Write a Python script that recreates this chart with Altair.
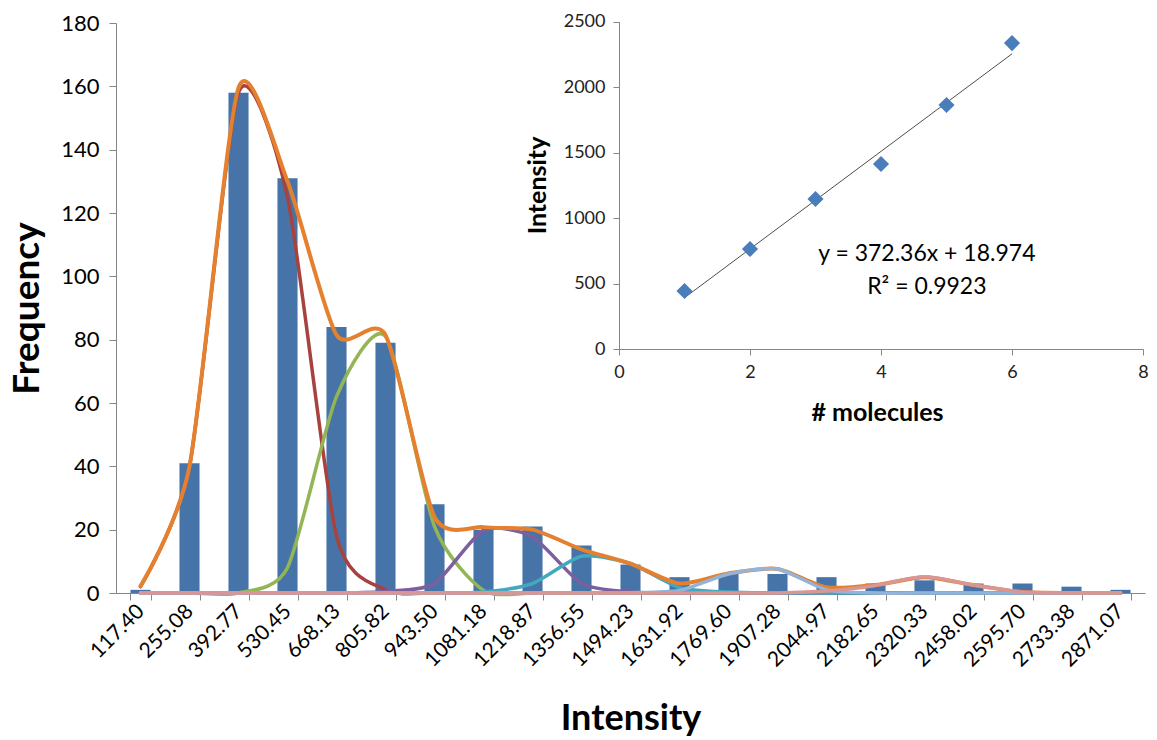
import altair as alt
import pandas as pd

# Histogram of spot intensities
bins = ["117.40", "255.08", "392.77", "530.45", "668.13", "805.82", "943.50",
        "1081.18", "1218.87", "1356.55", "1494.23", "1631.92", "1769.60",
        "1907.28", "2044.97", "2182.65", "2320.33", "2458.02", "2595.70",
        "2733.38", "2871.07"]
frequency = [1, 41, 158, 131, 84, 79, 28, 20, 21, 15, 9, 5, 6, 6, 5, 3, 4, 3, 3, 2, 1]

# Gaussian components evaluated at each bin, plus their sum
peak1 = [2, 40, 158, 125, 18, 1, 0, 0, 0, 0, 0, 0, 0, 0, 0, 0, 0, 0, 0, 0, 0]
peak2 = [0, 0, 0, 8, 62, 81, 21, 0.8, 0, 0, 0, 0, 0, 0, 0, 0, 0, 0, 0, 0, 0]
peak3 = [0, 0, 0, 0, 0, 0.5, 3, 19.8, 17.7, 3, 0.3, 0, 0, 0, 0, 0, 0, 0, 0, 0, 0]
peak4 = [0, 0, 0, 0, 0, 0, 0, 0.3, 3, 11.6, 9.3, 1.7, 0.3, 0, 0, 0, 0, 0, 0, 0, 0]
fit_sum = [2.2, 40, 159.5, 130, 81.5, 81.5, 24, 20.8, 20, 13.8, 9.3, 3, 6.2, 7.6,
           1.8, 2.5, 5, 2.5, 0.3, 0, 0]
peak5 = [0, 0, 0, 0, 0, 0, 0, 0, 0, 0, 0.1, 0.8, 6, 7.6, 1, 0, 0, 0, 0, 0, 0]
peak6 = [0, 0, 0, 0, 0, 0, 0, 0, 0, 0, 0, 0, 0, 0, 0.6, 2.4, 5.1, 2.5, 0.3, 0, 0]

# Calibration: intensity per number of molecules
molecules = [1, 2, 3, 4, 5, 6]
intensity = [443, 763, 1145, 1412, 1863, 2335]
slope = 372.36
intercept = 18.974
r_squared = 0.9923

FONT = "Lato"
AXIS_GREY = "#868686"

# Drawing order of the curves (later ones on top): name, values, colour, width
curves = [
    ("peak1", peak1, "#A8423F", 3.5),
    ("peak2", peak2, "#93B555", 3.5),
    ("peak3", peak3, "#7D5F9F", 3.5),
    ("peak4", peak4, "#43A7C0", 3.5),
    ("sum", fit_sum, "#E5802F", 4),
    ("peak5", peak5, "#95B3D7", 3.5),
    ("peak6", peak6, "#D99694", 3.5),
]

hist_df = pd.DataFrame({"bin": bins, "count": frequency})
curve_df = pd.DataFrame([
    {"bin": b, "idx": i, "series": name, "value": v}
    for name, vals, _, _ in curves
    for i, (b, v) in enumerate(zip(bins, vals))
])
calib_df = pd.DataFrame({"molecules": molecules, "intensity": intensity})
label_df = pd.DataFrame({
    "molecules": [4.7, 4.7],
    "intensity": [725, 473],
    "label": [f"y = {slope}x + {intercept}", f"R\u00b2 = {r_squared}"],
})

W, H = 1029, 570

band = alt.Scale(paddingInner=0.59, paddingOuter=0.295)
x_axis = alt.Axis(
    title="Intensity", titleFont=FONT, titleFontSize=36, titleFontWeight="bold",
    titleColor="#000", titleX=W / 2, titleY=125, titleBaseline="middle",
    labelAngle=-45, labelFont=FONT, labelFontSize=21, labelColor="#000",
    labelBaseline="middle", labelAlign="right",
    labelPadding=8, tickBand="extent", tickSize=7, tickColor=AXIS_GREY,
    domainColor=AXIS_GREY, labelOverlap=False,
)
y_axis = alt.Axis(
    title="Frequency", titleFont=FONT, titleFontSize=37, titleFontWeight="bold",
    titleColor="#000", titleX=-89, titleY=285, titleBaseline="middle",
    titleAngle=-90, titleAlign="center",
    values=list(range(0, 181, 20)), labelFont=FONT, labelFontSize=22,
    labelColor="#000", labelPadding=10, tickSize=7, tickColor=AXIS_GREY,
    domainColor=AXIS_GREY, grid=False,
)
y_scale = alt.Scale(domain=[0, 180])

bars = alt.Chart(hist_df).mark_bar(color="#4674A9").encode(
    x=alt.X("bin:N", sort=bins, scale=band, axis=x_axis),
    y=alt.Y("count:Q", scale=y_scale, axis=y_axis),
)

lines = []
for name, _, color, width in curves:
    lines.append(
        alt.Chart(curve_df)
        .transform_filter(alt.datum.series == name)
        .mark_line(color=color, strokeWidth=width, interpolate="cardinal",
                   tension=0.3, strokeCap="round")
        .encode(
            x=alt.X("bin:N", sort=bins, scale=band, axis=x_axis, bandPosition=0.5),
            y=alt.Y("value:Q", scale=y_scale, axis=y_axis),
            order=alt.Order("idx:Q"),
        )
    )

main = alt.layer(bars, *lines)

# Inset calibration plot, drawn inside the same view on its own scales
ix_scale = alt.Scale(domain=[0, 8], range=[503, 1027], nice=False)
iy_scale = alt.Scale(domain=[0, 2500], range=[326, -1.5], nice=False)
ix_axis = alt.Axis(
    orient="bottom", offset=-244, values=[0, 2, 4, 6, 8], format="d",
    title="# molecules", titleFont=FONT, titleFontSize=25, titleFontWeight="bold",
    titleColor="#000", titleX=761, titleY=63, titleBaseline="middle", titleAlign="center",
    labelFont=FONT, labelFontSize=18, labelColor="#222", labelPadding=8,
    labelFlush=False, tickSize=6, tickColor=AXIS_GREY, domainColor=AXIS_GREY, grid=False,
)
iy_axis = alt.Axis(
    orient="left", offset=-503, values=[0, 500, 1000, 1500, 2000, 2500], format="d",
    title="Intensity", titleFont=FONT, titleFontSize=25, titleFontWeight="bold",
    titleColor="#000", titleX=-82, titleY=162, titleBaseline="middle",
    titleAngle=-90, titleAlign="center",
    labelFont=FONT, labelFontSize=18, labelColor="#222", labelPadding=8,
    labelFlush=False, tickSize=6, tickColor=AXIS_GREY, domainColor=AXIS_GREY, grid=False,
)

ix = alt.X("molecules:Q", scale=ix_scale, axis=ix_axis)

points = alt.Chart(calib_df).mark_point(
    shape="diamond", filled=True, size=260, color="#4A7EBB", opacity=1
).encode(x=ix, y=alt.Y("intensity:Q", scale=iy_scale, axis=iy_axis))

trend = alt.Chart(calib_df).transform_calculate(
    fit=f"{slope} * datum.molecules + {intercept}"
).mark_line(color="#4D4D4D", strokeWidth=1).encode(
    x=ix, y=alt.Y("fit:Q", scale=iy_scale, axis=iy_axis)
)

labels = alt.Chart(label_df).mark_text(
    font=FONT, fontSize=23, color="#000", align="center", baseline="middle"
).encode(
    x=ix, y=alt.Y("intensity:Q", scale=iy_scale, axis=iy_axis), text="label:N"
)

inset = alt.layer(trend, points, labels)

chart = (
    alt.layer(main, inset)
    .resolve_scale(x="independent", y="independent")
    .properties(
        width=W, height=H,
        padding={"left": 116, "top": 23, "right": 12, "bottom": 147},
        autosize=alt.AutoSizeParams(type="none"),
        background="white",
    )
    .configure_view(stroke=None)
)

chart.save("out.html", embed_options={"renderer": "svg", "actions": False})
